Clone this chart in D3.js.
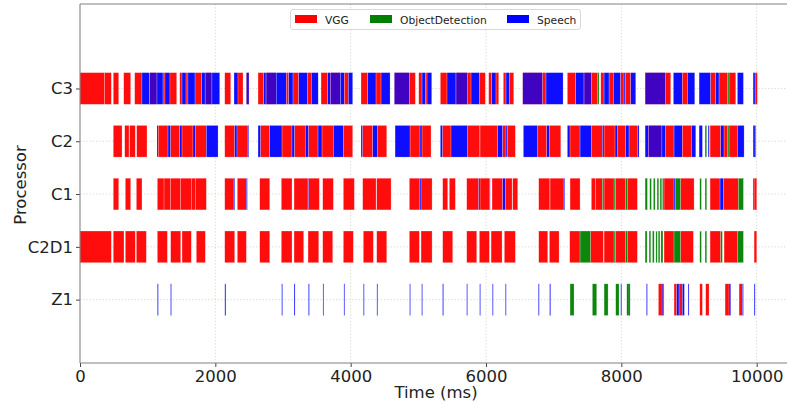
<!DOCTYPE html>
<html><head><meta charset="utf-8">
<script src="https://cdn.jsdelivr.net/npm/d3@7"></script>
<style>body{margin:0;background:#fff;} text{font-family:"DejaVu Sans",sans-serif;}</style>
</head><body>
<svg id="chart" width="787" height="404"></svg>
<script>
const processors = ["Z1","C2D1","C1","C2","C3"];
const models = ["VGG","ObjectDetection","Speech"];
const modelColors = ["#ff0000","#008000","#0000ff"];
const xTicks = [0,2000,4000,6000,8000,10000];

// [start ms, end ms, model index]
const tasksC3 = [
[0,365,0],[365,463,0],[492,572,0],[646,749,0],[808,916,0],
[916,1030,2],[1030,1138,0],[1030,1138,2],[1138,1227,2],[1227,1256,0],[1256,1330,2],[1330,1429,0],
[1474,1508,0],[1508,1567,2],[1567,1596,0],[1596,1700,2],[1700,1799,0],[1799,1850,2],[1850,1950,0],[1850,1950,2],[1950,2065,2],
[2139,2227,0],[2276,2335,2],[2335,2409,0],[2458,2498,0],[2458,2498,2],
[2631,2715,0],[2715,2750,2],[2750,2900,0],[2750,2900,2],[2900,3049,2],[3049,3084,0],[3084,3148,2],[3148,3232,0],[3232,3360,2],[3360,3419,0],[3419,3520,2],
[3562,3661,0],[3661,3700,2],[3700,3850,0],[3700,3850,2],[3850,3907,2],[3907,3966,0],[3966,4030,2],
[4153,4252,0],[4252,4375,2],[4375,4449,0],[4449,4582,2],
[4645,4867,0],[4645,4867,2],[4867,4956,0],
[5006,5055,0],[5055,5104,2],[5104,5129,0],[5129,5198,2],
[5325,5424,0],[5424,5557,2],[5557,5730,0],[5557,5730,2],[5730,5779,0],[5779,5902,2],[5902,5990,0],
[6040,6085,0],[6085,6148,2],[6148,6188,0],
[6256,6296,0],[6296,6345,2],[6345,6410,0],
[6543,6838,0],[6543,6838,2],[6838,6887,0],[6887,7139,2],
[7202,7326,0],[7326,7449,2],[7449,7557,0],[7449,7557,2],[7557,7646,0],[7646,7671,1],
[7696,7745,0],[7745,7819,2],[7819,7882,0],[7882,7991,2],[7991,8040,0],[8040,8065,2],[8065,8139,0],[8139,8213,2],
[8351,8656,0],[8351,8656,2],[8656,8730,0],
[8769,8902,2],[8902,8976,0],[8976,9085,2],
[9149,9321,2],[9321,9395,0],[9395,9444,2],[9444,9567,0],[9567,9592,1],[9592,9691,0],
[9715,9804,2],[9947,9977,2],[9977,10010,0]
];
const tasksC2 = [
[492,621,0],[661,724,0],[732,817,0],[838,990,0],
[1138,1157,2],[1157,1301,0],[1301,1340,2],[1340,1474,0],[1474,1508,2],[1508,1670,0],[1670,1704,2],[1704,1867,0],[1867,2040,2],
[2139,2286,0],[2286,2320,2],[2320,2483,0],[2483,2493,2],
[2631,2670,2],[2670,2804,0],[2804,2986,2],[2986,3133,0],[3133,3173,2],[3173,3330,0],[3330,3380,2],[3380,3518,0],[3518,3577,2],[3577,3744,0],[3744,3892,2],[3892,4030,0],
[4153,4178,2],[4178,4326,0],[4326,4400,2],[4400,4533,0],
[4656,4878,2],[4878,5025,0],[5025,5055,2],[5055,5188,0],
[5325,5360,2],[5360,5483,0],[5483,5730,2],[5730,5902,0],[5902,5912,2],[5912,6173,0],[6173,6247,2],[6247,6296,0],[6296,6321,2],[6321,6434,0],
[6552,6765,2],[6765,6898,0],[6898,6937,2],[6937,7105,0],
[7202,7242,2],[7242,7390,0],[7390,7557,2],[7557,7720,0],[7720,7745,2],[7745,7907,0],[7907,7942,2],[7942,8065,0],[8065,8114,2],[8114,8237,0],[8237,8262,2],
[8351,8400,2],[8400,8600,0],[8400,8600,2],[8600,8656,2],[8656,8779,0],[8779,8902,2],[8902,9036,0],[9036,9100,2],
[9149,9198,2],[9237,9262,1],[9282,9301,2],[9311,9469,0],[9469,9518,2],[9518,9567,0],[9567,9592,1],[9592,9715,0],[9715,9814,2],
[9947,9977,2],[9977,9991,0]
];
const tasksC1 = [
[492,572,0],[670,749,0],[833,916,0],
[1143,1242,0],[1242,1340,0],[1340,1488,0],[1488,1645,0],[1645,1704,0],[1704,1867,0],
[2139,2276,0],[2276,2286,2],[2325,2458,0],[2458,2473,2],[2656,2804,0],
[2975,3133,0],[3163,3370,0],[3370,3380,2],[3380,3537,0],[3587,3744,0],[3892,4054,0],
[4178,4375,0],[4385,4597,0],[4867,5015,0],[5015,5040,2],[5040,5203,0],
[5360,5434,0],[5458,5547,0],[5715,5892,0],[5892,5912,2],[5912,6050,0],[6050,6060,2],
[6089,6247,0],[6247,6286,2],[6286,6385,0],[6395,6469,0],
[6779,6937,0],[6937,6947,2],[6947,7153,0],[7153,7163,2],[7242,7390,0],
[7557,7621,0],[7621,7720,0],[7720,7745,1],[7745,7893,0],[7893,7917,1],[7917,8065,0],[8065,8089,1],[8089,8237,0],
[8351,8385,1],[8420,8444,1],[8474,8499,1],[8528,8553,1],[8572,8597,1],[8607,8631,1],
[8631,8779,0],[8779,8804,2],[8804,8878,1],[8878,9075,0],
[9159,9183,1],[9237,9262,1],[9311,9459,0],[9459,9508,2],[9508,9730,0],[9730,9804,1],
[9947,9962,2],[9962,10001,0]
];
const tasksC2D1 = [
[0,463,0],[492,650,0],[670,817,0],[833,980,0],
[1143,1291,0],[1340,1488,0],[1508,1645,0],[1719,1852,0],
[2139,2286,0],[2325,2458,0],[2656,2804,0],
[2975,3133,0],[3163,3306,0],[3370,3528,0],[3587,3735,0],[3892,4039,0],
[4187,4335,0],[4385,4533,0],[4867,5015,0],[5040,5203,0],[5360,5508,0],
[5715,5863,0],[5902,6050,0],[6075,6237,0],[6271,6434,0],
[6779,6912,0],[6937,7080,0],
[7237,7390,0],[7390,7548,1],[7548,7735,0],[7745,7893,0],[7893,7917,1],[7917,8065,0],[8065,8089,1],[8089,8237,0],
[8351,8380,1],[8410,8435,1],[8460,8485,1],[8510,8530,1],[8545,8570,1],[8585,8615,1],
[8631,8779,0],[8779,8878,1],[8878,9065,0],
[9159,9183,1],[9237,9262,1],[9311,9469,0],[9469,9493,1],[9518,9715,0],[9715,9804,1],
[9962,10001,0]
];
const tasksZ1 = [
[1143,1158,2],[1338,1352,2],[2140,2156,2],[2980,2994,2],[3163,3178,2],[3375,3390,2],[3590,3603,2],
[3900,3913,2],[4188,4201,2],[4387,4400,2],[4871,4884,2],[5049,5062,2],[5358,5373,2],[5714,5727,2],
[5906,5919,2],[6094,6107,2],[6286,6299,2],[6773,6787,2],[6940,6956,2],
[7242,7301,1],[7572,7636,1],[7745,7804,1],[7917,7966,1],[7991,8006,2],[8080,8129,1],[8114,8129,2],
[8370,8385,2],[8548,8631,0],[8602,8617,2],
[8779,8818,0],[8818,8853,2],[8853,8902,0],[8902,8932,2],[8986,9001,2],
[9159,9198,0],[9247,9296,0],[9533,9592,0],[9592,9617,2],[9740,9789,0],[9789,9804,2],[9962,9977,2]
];
const tasksByProcessor = {"Z1":tasksZ1,"C2D1":tasksC2D1,"C1":tasksC1,"C2":tasksC2,"C3":tasksC3};

(function(){
const svg = d3.select("#chart");
const W = 787;
const mLeft = 80, mTop = 4, mBottom = 363;
const x = d3.scaleLinear().domain([0, 10448]).range([mLeft, W]);
const y = d3.scaleLinear().domain([-1.2, 5.6]).range([mBottom, mTop]);
const barH = y(0) - y(0.6);

// grid
const grid = svg.append("g");
xTicks.forEach(t => grid.append("line").attr("x1", x(t)).attr("x2", x(t)).attr("y1", mTop).attr("y2", mBottom)
  .attr("stroke", "#c8d4b8").attr("stroke-width", 0.8).attr("stroke-dasharray", "1.2,2"));
processors.forEach((p,i) => grid.append("line").attr("x1", mLeft).attr("x2", W).attr("y1", y(i)).attr("y2", y(i))
  .attr("stroke", "#c8d4b8").attr("stroke-width", 0.8).attr("stroke-dasharray", "1.2,2"));

// bars
const barsG = svg.append("g");
processors.forEach((p, i) => {
  const tasks = tasksByProcessor[p];
  tasks.forEach((t, k) => {
    const overlaps = tasks.slice(0, k).some(o => o[0] < t[1] && o[1] > t[0]);
    barsG.append("rect")
      .attr("x", x(t[0])).attr("width", Math.max(0.8, x(t[1]) - x(t[0])))
      .attr("y", y(i) - barH/2).attr("height", barH)
      .attr("fill", modelColors[t[2]])
      .attr("fill-opacity", overlaps ? 0.75 : 0.95)
      .attr("stroke", "#ffffff").attr("stroke-opacity", 0.45).attr("stroke-width", 0.5);
  });
});

// axes
const xAxis = d3.axisBottom(x).tickValues(xTicks).tickFormat(d3.format("d")).tickSize(4).tickPadding(3);
const gx = svg.append("g").attr("transform", `translate(0,${mBottom})`).call(xAxis);
gx.select(".domain").remove();
gx.selectAll("text").attr("font-size", 16.5).attr("fill", "#222").attr("font-family", "DejaVu Sans");
gx.selectAll("line").attr("stroke", "#444");

const yAxis = d3.axisLeft(y).tickValues(processors.map((p,i)=>i)).tickFormat(i => processors[i]).tickSize(4).tickPadding(3);
const gy = svg.append("g").attr("transform", `translate(${mLeft},0)`).call(yAxis);
gy.select(".domain").remove();
gy.selectAll("text").attr("font-size", 16.5).attr("fill", "#222").attr("font-family", "DejaVu Sans");
gy.selectAll("line").attr("stroke", "#444");

// spines
svg.append("line").attr("x1", mLeft).attr("x2", mLeft).attr("y1", mTop).attr("y2", mBottom).attr("stroke", "#808080").attr("stroke-width", 1);
svg.append("line").attr("x1", mLeft).attr("x2", W).attr("y1", mBottom).attr("y2", mBottom).attr("stroke", "#808080").attr("stroke-width", 1);
svg.append("line").attr("x1", mLeft).attr("x2", W).attr("y1", mTop).attr("y2", mTop).attr("stroke", "#808080").attr("stroke-width", 1);

// axis labels
svg.append("text").attr("x", 436).attr("y", 398).attr("text-anchor", "middle").attr("font-size", 16.5).attr("fill", "#222").text("Time (ms)");
svg.append("text").attr("transform", "translate(26,185) rotate(-90)").attr("text-anchor", "middle").attr("font-size", 16.5).attr("fill", "#222").text("Processor");

// legend
const lg = svg.append("g");
lg.append("rect").attr("x", 290.5).attr("y", 9.5).attr("width", 290).attr("height", 20).attr("rx", 2.5)
  .attr("fill", "#fff").attr("fill-opacity", 0.8).attr("stroke", "#d8d8d8");
const legendX = [295, 370, 507];
models.forEach((m, i) => {
  lg.append("rect").attr("x", legendX[i]).attr("y", 15).attr("width", 22).attr("height", 8).attr("fill", modelColors[i]);
  lg.append("text").attr("x", legendX[i] + 30).attr("y", 23.5).attr("font-size", 10.7).attr("fill", "#222").text(m);
});
})();
</script>
</body></html>
